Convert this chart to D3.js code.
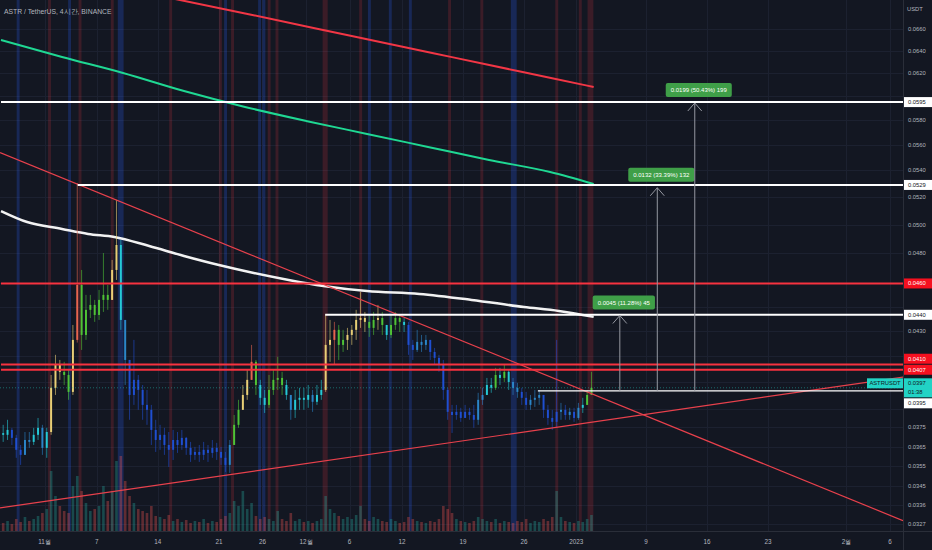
<!DOCTYPE html>
<html>
<head>
<meta charset="utf-8">
<script src="https://cdn.jsdelivr.net/npm/d3@7"></script>
<style>
html, body { margin: 0; padding: 0; background: #131722; overflow: hidden; }
svg { display: block; font-family: "Liberation Sans", Roboto, sans-serif; }
</style>
</head>
<body>
<svg id="chart" width="932" height="550"></svg>
<script>
"use strict";

// ---- data (12h candles) ----
var startDate = '2022-10-27';
var endDate = '2023-02-06';
var firstOpen = 0.03720;
var closes = [
  0.03711, 0.03737, 0.03695, 0.03633, 0.03607, 0.03684, 0.03674, 0.03711, 0.03748, 0.03643,
  0.03726, 0.03967, 0.04098, 0.04058, 0.04040, 0.03944, 0.04246, 0.04590, 0.04276, 0.04431,
  0.04462, 0.04399, 0.04494, 0.04526, 0.04494, 0.04689, 0.04858, 0.04368, 0.04127, 0.03927,
  0.04012, 0.03955, 0.03872, 0.03845, 0.03737, 0.03684, 0.03711, 0.03658, 0.03633, 0.03684,
  0.03658, 0.03695, 0.03643, 0.03607, 0.03622, 0.03607, 0.03633, 0.03617, 0.03643, 0.03622,
  0.03592, 0.03556, 0.03658, 0.03764, 0.03845, 0.03927, 0.04012, 0.04116, 0.03983, 0.03911,
  0.03872, 0.03955, 0.04012, 0.04023, 0.03983, 0.03927, 0.03845, 0.03900, 0.03911, 0.03900,
  0.03927, 0.03889, 0.03927, 0.03955, 0.04216, 0.04246, 0.04307, 0.04216, 0.04246, 0.04276,
  0.04307, 0.04368, 0.04380, 0.04356, 0.04319, 0.04368, 0.04380, 0.04337, 0.04276, 0.04337,
  0.04380, 0.04356, 0.04337, 0.04216, 0.04186, 0.04234, 0.04216, 0.04246, 0.04174, 0.04139,
  0.04098, 0.03955, 0.03834, 0.03817, 0.03834, 0.03801, 0.03834, 0.03817, 0.03791, 0.03900,
  0.03927, 0.03983, 0.03967, 0.04040, 0.04023, 0.04058, 0.04000, 0.03967, 0.03944, 0.03911,
  0.03872, 0.03900, 0.03911, 0.03927, 0.03845, 0.03801, 0.03780, 0.03834, 0.03845, 0.03817,
  0.03834, 0.03801, 0.03856, 0.03872, 0.03927, 0.03967
];
var highs = [
  0.03764, 0.03791, 0.03748, 0.03711, 0.03658, 0.03726, 0.03726, 0.03748, 0.03801, 0.03764,
  0.03748, 0.04040, 0.04157, 0.04127, 0.04116, 0.04069, 0.04337, 0.05305, 0.04689, 0.04526,
  0.04526, 0.04494, 0.04558, 0.04803, 0.04590, 0.04756, 0.05179, 0.04893, 0.04368, 0.04127,
  0.04246, 0.04040, 0.03983, 0.03955, 0.03872, 0.03791, 0.03764, 0.03748, 0.03726, 0.03737,
  0.03726, 0.03737, 0.03700, 0.03674, 0.03648, 0.03658, 0.03674, 0.03658, 0.03684, 0.03669,
  0.03648, 0.03622, 0.03684, 0.03817, 0.03900, 0.03983, 0.04069, 0.04216, 0.04127, 0.04012,
  0.03955, 0.04040, 0.04069, 0.04145, 0.04058, 0.04012, 0.03927, 0.03955, 0.03967, 0.03967,
  0.03983, 0.03955, 0.03983, 0.04012, 0.04405, 0.04368, 0.04356, 0.04337, 0.04307, 0.04319,
  0.04337, 0.04431, 0.04545, 0.04418, 0.04399, 0.04418, 0.04462, 0.04418, 0.04337, 0.04399,
  0.04418, 0.04399, 0.04380, 0.04356, 0.04246, 0.04307, 0.04276, 0.04276, 0.04246, 0.04198,
  0.04157, 0.04127, 0.03967, 0.03872, 0.03872, 0.03856, 0.03872, 0.03856, 0.03872, 0.03939,
  0.03967, 0.04023, 0.04023, 0.04081, 0.04081, 0.04098, 0.04069, 0.04023, 0.03995, 0.03967,
  0.03944, 0.03927, 0.03955, 0.03955, 0.03927, 0.03872, 0.03845, 0.04246, 0.03883, 0.03872,
  0.03856, 0.03856, 0.03883, 0.03911, 0.03955, 0.04058
];
var lows = [
  0.03674, 0.03684, 0.03658, 0.03592, 0.03556, 0.03607, 0.03643, 0.03658, 0.03684, 0.03607,
  0.03592, 0.03711, 0.03927, 0.04012, 0.03983, 0.03900, 0.03927, 0.04230, 0.04186, 0.04246,
  0.04380, 0.04356, 0.04368, 0.04418, 0.04431, 0.04494, 0.04623, 0.04307, 0.03983, 0.03791,
  0.03872, 0.03845, 0.03791, 0.03764, 0.03658, 0.03622, 0.03633, 0.03607, 0.03546, 0.03581,
  0.03617, 0.03633, 0.03607, 0.03571, 0.03581, 0.03571, 0.03581, 0.03571, 0.03592, 0.03581,
  0.03556, 0.03521, 0.03516, 0.03684, 0.03748, 0.03845, 0.03900, 0.04012, 0.03927, 0.03872,
  0.03828, 0.03856, 0.03927, 0.03955, 0.03927, 0.03900, 0.03791, 0.03801, 0.03845, 0.03845,
  0.03856, 0.03834, 0.03872, 0.03900, 0.03944, 0.04116, 0.04098, 0.04127, 0.04174, 0.04186,
  0.04216, 0.04246, 0.04319, 0.04294, 0.04264, 0.04276, 0.04307, 0.04276, 0.04246, 0.04258,
  0.04307, 0.04294, 0.04294, 0.04157, 0.04127, 0.04174, 0.04174, 0.04186, 0.04127, 0.04098,
  0.04058, 0.03900, 0.03791, 0.03721, 0.03791, 0.03780, 0.03801, 0.03791, 0.03748, 0.03764,
  0.03872, 0.03927, 0.03939, 0.03955, 0.03983, 0.04000, 0.03955, 0.03927, 0.03911, 0.03872,
  0.03845, 0.03845, 0.03861, 0.03872, 0.03801, 0.03764, 0.03737, 0.03753, 0.03791, 0.03791,
  0.03791, 0.03780, 0.03791, 0.03828, 0.03872, 0.03927
];
// volume in millions ASTR
var volumes = [
  2, 2.5, 1.75, 3, 2.25, 3.5, 2.5, 3, 3.75, 4.5,
  5.5, 15, 8.75, 6.25, 5, 4.5, 11.25,
  13.75, 10, 7, 5, 5.5, 6.25, 11.25, 7.5, 10, 17.5, 18.75,
  12.5, 8.75, 7, 5.5, 5, 4.5, 6.25, 3.75,
  3.5, 3, 4, 2.5, 3, 2.25, 2.75, 2, 2.5, 2.25, 3, 2, 2.5, 2.25, 3, 3.75, 4.5,
  7.5, 6.25, 10, 5.5, 7, 3.75, 3, 3.5,
  3, 2.5, 5, 3, 2.5, 4.5, 2.5, 3, 2.25, 2.5, 2, 2.5, 3,
  8.75, 5.5, 4.5, 3.75, 3, 3.5, 3, 4, 6.25,
  3, 2.5, 3.5, 3, 2.5, 2.25, 3, 2.5, 2, 2.25, 3.5, 3, 2.5, 2.25, 2, 2.5, 2.25, 3,
  6.25, 5.5, 4.5, 3, 2.5, 2.25, 2, 2.5, 3.5, 3,
  2.5, 2.25, 3, 2, 2.5, 2.25, 2, 2.5, 2.25, 3, 2, 2.5, 2.25, 3, 2.5, 3.5,
  10, 3.5, 2.5, 2.25, 2, 2.5, 2.25, 3, 4
];

// moving averages (day offset from start, price)
var maRedDays = [17.2, 28.7, 40.1, 51.6, 63.1, 68];
var maRedVals = [0.06936, 0.06735, 0.06537, 0.06344, 0.06157, 0.06079];
var maGreenDays = [0, 7, 14, 21, 28, 35, 42, 49, 56, 63, 68];
var maGreenVals = [0.06498, 0.06343, 0.06201, 0.06044, 0.05909, 0.05793, 0.05687, 0.05583, 0.05481, 0.05388, 0.05297];
var maWhiteDays = [0, 3, 7, 10, 13, 17, 21, 25, 29, 33, 37, 42, 48, 54, 60, 64, 68];
var maWhiteVals = [0.05098, 0.05019, 0.04970, 0.04935, 0.04914, 0.04851, 0.04783, 0.04722, 0.04669,
                   0.04623, 0.04584, 0.04551, 0.04532, 0.04494, 0.04449, 0.04424, 0.04387];

// drawn trend lines: two anchors each (day, price)
var trendDays = [[0, 100], [0, 100]];
var trendVals = [[0.05535, 0.03344], [0.03346, 0.04003]];

// horizontal levels
var levelPrices = [0.0595, 0.0529, 0.0460, 0.0440, 0.0410, 0.0407, 0.0395];
var levelStart = [0, 8.8, 0, 37.2, 0, 0, 61.6];
var levelKinds = ['w', 'w', 'r', 'w', 'r', 'r', 'w'];

// price range measurements
var measureBase = 0.0395;
var measureDays = [71.0, 75.3, 79.6];
var measureChange = [0.0045, 0.0132, 0.0199];
var measurePct = [11.28, 33.39, 50.43];
var measureTicks = [45, 132, 199];

// session background stripes
var bandDays = [1.8, 5.4, 7.7, 8.9, 12.6, 13.4, 19.3, 25.0, 25.6, 26.4, 29.5, 30.0, 30.6,
                31.5, 36.9, 41.1, 42.1, 44.5, 46.8, 51.3, 55.0, 58.5, 63.6, 66.3, 67.3];
var bandHours = [8, 8, 8, 8, 8, 16, 8, 8, 8, 8, 8, 8, 8, 8, 14, 8, 8, 8, 8, 8, 8, 16, 8, 8, 16];
var bandKinds = ['b', 'r', 'b', 'r', 'r', 'b', 'r', 'r', 'b', 'r', 'b', 'b', 'r',
                 'r', 'r', 'r', 'b', 'b', 'b', 'r', 'r', 'b', 'r', 'r', 'r'];

var yTicks = [0.0660, 0.0640, 0.0620, 0.0600, 0.0580, 0.0560, 0.0540, 0.0520, 0.0500, 0.0480,
              0.0460, 0.0445, 0.0430, 0.0415, 0.0400, 0.0385, 0.0375, 0.0365, 0.0355, 0.0345,
              0.0336, 0.0327];
var xTicks = ['2022-11-01', '2022-11-07', '2022-11-14', '2022-11-21', '2022-11-26', '2022-12-01',
              '2022-12-06', '2022-12-12', '2022-12-19', '2022-12-26', '2023-01-01', '2023-01-09',
              '2023-01-16', '2023-01-23', '2023-02-01', '2023-02-06'];
var xTickLabels = ['11월', '7', '14', '21', '26', '12월', '6', '12', '19', '26', '2023', '9', '16', '23', '2월', '6'];

var title = 'ASTR / TetherUS, 4시간, BINANCE';
var symbol = 'ASTRUSDT';
var countdown = '01:38';

// ---- layout ----
var plotR = 903, plotB = 531;
var BG = '#131722', TXT = '#b2b5be', GRID = '#1c2130';
var RED = '#f7323f', TEAL = '#22d3c5';

var parse = d3.timeParse('%Y-%m-%d');
var t0 = parse(startDate);
function dayToDate(d) { return d3.timeMinute.offset(t0, Math.round(d * 1440)); }

var x = d3.scaleTime().domain([t0, parse(endDate)]).range([1, 890]);
var y = d3.scaleLog().domain([0.0327, 0.0660]).range([524, 29]);
var yVol = d3.scaleLinear().domain([0, 20]).range([plotB, plotB - 80]);

var svg = d3.select('#chart');
svg.append('rect').attr('width', 932).attr('height', 550).attr('fill', BG);

svg.append('defs').append('clipPath').attr('id', 'plot')
  .append('rect').attr('width', plotR).attr('height', plotB);

var plot = svg.append('g').attr('clip-path', 'url(#plot)');

// grid
plot.append('g').selectAll('line').data(yTicks).join('line')
    .attr('x1', 0).attr('x2', plotR)
    .attr('y1', function(d) { return Math.round(y(d)) + 0.5; })
    .attr('y2', function(d) { return Math.round(y(d)) + 0.5; })
    .attr('stroke', GRID);
plot.append('g').selectAll('line').data(xTicks).join('line')
    .attr('y1', 0).attr('y2', plotB)
    .attr('x1', function(d) { return Math.round(x(parse(d))) + 0.5; })
    .attr('x2', function(d) { return Math.round(x(parse(d))) + 0.5; })
    .attr('stroke', GRID);

// background stripes
plot.append('g').selectAll('rect').data(bandDays).join('rect')
    .attr('x', function(d) { return x(dayToDate(d)); })
    .attr('width', function(d, i) { return x(dayToDate(d + bandHours[i] / 24)) - x(dayToDate(d)); })
    .attr('y', 0).attr('height', plotB)
    .attr('fill', function(d, i) { return bandKinds[i] === 'r' ? 'rgba(242,54,69,0.18)' : 'rgba(41,98,255,0.24)'; });

// candles
var candles = closes.map(function(c, i) {
  var o = i ? closes[i - 1] : firstOpen;
  return {
    t: d3.timeHour.offset(t0, i * 12 + 6),
    o: o, c: c,
    h: Math.max(highs[i], o, c),
    l: Math.min(lows[i], o, c),
    v: volumes[i]
  };
});

// volume
var vw = x(d3.timeHour.offset(t0, 12)) - x(t0);
plot.append('g').selectAll('rect').data(candles).join('rect')
    .attr('x', function(d) { return x(d.t) - vw * 0.3; })
    .attr('width', vw * 0.6)
    .attr('y', function(d) { return yVol(d.v); })
    .attr('height', function(d) { return plotB - yVol(d.v); })
    .attr('fill', function(d) { return d.c >= d.o ? 'rgba(38,166,154,0.35)' : 'rgba(239,83,80,0.35)'; });

// moving averages
function maLine(days, vals) {
  return d3.line().curve(d3.curveMonotoneX)
    .x(function(d) { return x(dayToDate(d)); })
    .y(function(d, i) { return y(vals[i]); })(days);
}
plot.append('path').attr('d', maLine(maRedDays, maRedVals))
    .attr('fill', 'none').attr('stroke', '#f23645').attr('stroke-width', 2);
plot.append('path').attr('d', maLine(maGreenDays, maGreenVals))
    .attr('fill', 'none').attr('stroke', '#1fd893').attr('stroke-width', 2);
plot.append('path').attr('d', maLine(maWhiteDays, maWhiteVals))
    .attr('fill', 'none').attr('stroke', '#f2f2f2').attr('stroke-width', 2.5);

// candle colours from a short RSI
function rsi(vals, n) {
  var out = [], gain = 0, loss = 0;
  for (var i = 0; i < vals.length; i++) {
    var d = i ? vals[i] - vals[i - 1] : 0;
    var g = Math.max(d, 0), l = Math.max(-d, 0);
    if (i <= n) { gain += g / n; loss += l / n; }
    else { gain = (gain * (n - 1) + g) / n; loss = (loss * (n - 1) + l) / n; }
    out.push(loss === 0 ? 55 : 100 - 100 / (1 + gain / loss));
  }
  return out;
}
var rsiVals = rsi(closes, 8);
var candleColor = d3.scaleThreshold()
    .domain([40, 49, 58, 70, 80])
    .range(['#1f4fd1', '#2b86c9', '#25c9d6', '#4fc336', '#e9cf76', '#e8644f']);

var bw = vw * 0.45;
var cg = plot.append('g').selectAll('g').data(candles).join('g');
cg.append('line')
    .attr('x1', function(d) { return x(d.t); })
    .attr('x2', function(d) { return x(d.t); })
    .attr('y1', function(d) { return y(d.h); })
    .attr('y2', function(d) { return y(d.l); })
    .attr('stroke', function(d, i) { return candleColor(rsiVals[i]); })
    .attr('stroke-opacity', 0.6).attr('stroke-width', 1);
cg.append('rect')
    .attr('x', function(d) { return x(d.t) - bw / 2; })
    .attr('width', bw)
    .attr('y', function(d) { return y(Math.max(d.o, d.c)); })
    .attr('height', function(d) { return Math.max(1, Math.abs(y(d.o) - y(d.c))); })
    .attr('fill', function(d, i) { return candleColor(rsiVals[i]); });

// current price dotted line
var last = closes[closes.length - 1];
plot.append('line')
    .attr('x1', 0).attr('x2', plotR)
    .attr('y1', y(last)).attr('y2', y(last))
    .attr('stroke', TEAL).attr('stroke-opacity', 0.45).attr('stroke-dasharray', '1,2');

// trend lines, extended to the plot edges
trendDays.forEach(function(td, i) {
  var xa = x(dayToDate(td[0])), ya = y(trendVals[i][0]);
  var xb = x(dayToDate(td[1])), yb = y(trendVals[i][1]);
  var k = (yb - ya) / (xb - xa);
  plot.append('line')
      .attr('x1', 0).attr('y1', ya + (0 - xa) * k)
      .attr('x2', plotR).attr('y2', ya + (plotR - xa) * k)
      .attr('stroke', '#e8414c').attr('stroke-width', 1.2);
});

// horizontal levels
plot.append('g').selectAll('line').data(levelPrices).join('line')
    .attr('x1', function(d, i) { return x(dayToDate(levelStart[i])); })
    .attr('x2', plotR)
    .attr('y1', function(d) { return y(d); })
    .attr('y2', function(d) { return y(d); })
    .attr('stroke', function(d, i) { return levelKinds[i] === 'r' ? RED : '#ffffff'; })
    .attr('stroke-width', function(d, i) { return i === levelPrices.length - 1 ? 1.2 : 2; });

// measurement arrows
var yBase = y(measureBase);
measureDays.forEach(function(md, i) {
  var ax = x(dayToDate(md));
  var top = y(measureBase * (1 + measurePct[i] / 100));
  plot.append('line').attr('x1', ax).attr('x2', ax).attr('y1', yBase).attr('y2', top)
      .attr('stroke', '#9598a1').attr('stroke-width', 1);
  plot.append('path').attr('d', 'M' + (ax - 7) + ',' + (top + 8) + 'L' + ax + ',' + top + 'L' + (ax + 7) + ',' + (top + 8))
      .attr('fill', 'none').attr('stroke', '#9598a1').attr('stroke-width', 1);
  var g = plot.append('g');
  var txt = measureChange[i].toFixed(4) + ' (' + measurePct[i].toFixed(2) + '%) ' + measureTicks[i];
  var rect = g.append('rect').attr('fill', '#3f9f48').attr('rx', 2);
  var t = g.append('text').text(txt)
      .attr('x', ax + 4).attr('y', top - 13)
      .attr('text-anchor', 'middle').attr('dominant-baseline', 'central')
      .attr('fill', '#ffffff').attr('font-size', 6);
  var w = t.node().getComputedTextLength() + 10;
  rect.attr('x', ax + 4 - w / 2).attr('y', top - 20).attr('width', w).attr('height', 14);
});

// ---- price axis ----
svg.append('line').attr('x1', plotR + 0.5).attr('x2', plotR + 0.5).attr('y1', 0).attr('y2', 550)
    .attr('stroke', '#2a2e39');
svg.append('line').attr('x1', 0).attr('x2', 932).attr('y1', plotB + 0.5).attr('y2', plotB + 0.5)
    .attr('stroke', '#2a2e39');

svg.append('text').text('USDT').attr('x', 907).attr('y', 9)
    .attr('dominant-baseline', 'central').attr('fill', TXT).attr('font-size', 5.8);

// price tags, spread so they do not overlap (current price stays put)
var tags = levelPrices.map(function(p, i) {
  var red = levelKinds[i] === 'r';
  return { text: p.toFixed(4), y: y(p), h: 10, fill: red ? '#f5101f' : '#ffffff', color: red ? '#ffffff' : '#131722' };
});
var cur = { text: last.toFixed(4), sub: countdown, y: y(last), h: 19, fill: TEAL, color: '#131722', cur: true };
tags.push(cur);
tags.sort(function(a, b) { return a.y - b.y; });
var ci = tags.indexOf(cur);
for (var i = ci + 1; i < tags.length; i++) {
  var prevBottom = tags[i - 1].y + tags[i - 1].h / 2;
  if (tags[i].y - tags[i].h / 2 < prevBottom + 1) tags[i].y = prevBottom + 1 + tags[i].h / 2;
}
for (var j = ci - 1; j >= 0; j--) {
  var nextTop = tags[j + 1].y - tags[j + 1].h / 2;
  if (tags[j].y + tags[j].h / 2 > nextTop - 1) tags[j].y = nextTop - 1 - tags[j].h / 2;
}

// tick labels that would sit under a tag are left out
var freeTicks = yTicks.filter(function(v) {
  var ty = y(v);
  return tags.every(function(t) { return Math.abs(ty - t.y) > t.h / 2 + 3; });
});
svg.append('g').selectAll('text').data(freeTicks).join('text')
    .text(function(d) { return d.toFixed(4); })
    .attr('x', 908).attr('y', function(d) { return y(d); })
    .attr('dominant-baseline', 'central').attr('fill', TXT).attr('font-size', 5.8);

var tg = svg.append('g').selectAll('g').data(tags).join('g');
tg.append('rect')
    .attr('x', plotR + 1).attr('width', 28)
    .attr('y', function(d) { return d.y - d.h / 2; })
    .attr('height', function(d) { return d.h; })
    .attr('fill', function(d) { return d.fill; });
tg.append('text')
    .text(function(d) { return d.text; })
    .attr('x', 908)
    .attr('y', function(d) { return d.cur ? d.y - 4.5 : d.y; })
    .attr('dominant-baseline', 'central')
    .attr('fill', function(d) { return d.color; })
    .attr('font-size', 5.8);
tg.filter(function(d) { return d.cur; }).append('text')
    .text(function(d) { return d.sub; })
    .attr('x', 908).attr('y', function(d) { return d.y + 4.5; })
    .attr('dominant-baseline', 'central').attr('fill', '#131722').attr('font-size', 5.8);

// symbol tag left of the axis
var sy = cur.y - 4.5;
svg.append('rect').attr('x', 867).attr('y', sy - 5).attr('width', 36).attr('height', 10).attr('fill', TEAL);
svg.append('text').text(symbol).attr('x', 885).attr('y', sy)
    .attr('text-anchor', 'middle').attr('dominant-baseline', 'central')
    .attr('fill', '#131722').attr('font-size', 5.8);

// ---- time axis ----
svg.append('g').selectAll('text').data(xTicks).join('text')
    .text(function(d, i) { return xTickLabels[i]; })
    .attr('x', function(d) { return x(parse(d)); })
    .attr('y', 541)
    .attr('text-anchor', 'middle').attr('dominant-baseline', 'central')
    .attr('fill', TXT).attr('font-size', 6.3);

// title
svg.append('text').text(title).attr('x', 4).attr('y', 11)
    .attr('dominant-baseline', 'central').attr('fill', TXT).attr('font-size', 6.8);
</script>
</body>
</html>
